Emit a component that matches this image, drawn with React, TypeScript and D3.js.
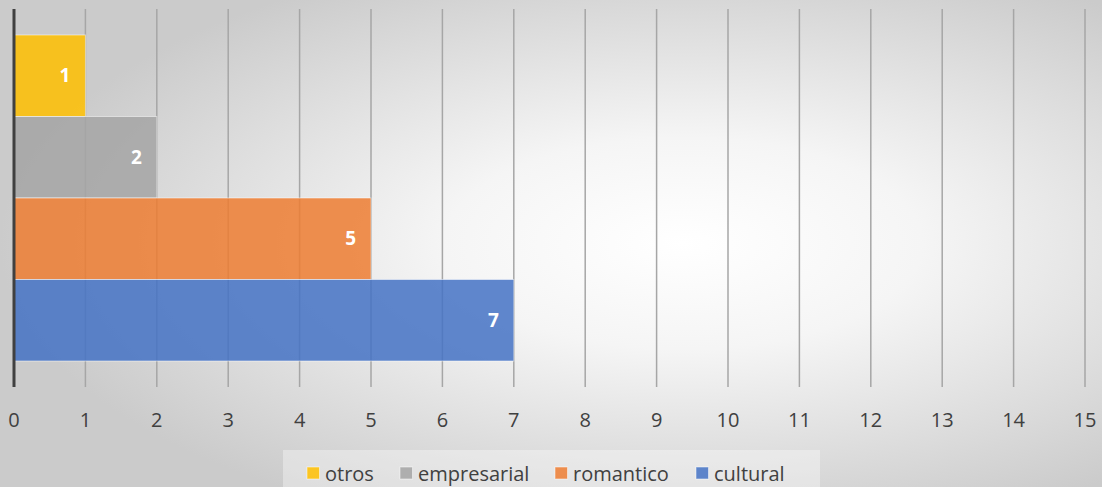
import React from "react";
import * as d3 from "d3";

const series = ["otros", "empresarial", "romantico", "cultural"];
const values = [1, 2, 5, 7];
const colors = ["#ffc000", "#a5a5a5", "#ed7d31", "#4472c4"];
const ticks = [0, 1, 2, 3, 4, 5, 6, 7, 8, 9, 10, 11, 12, 13, 14, 15];

const W = 1102;
const H = 487;
const FONT = "'Open Sans', sans-serif";

export default function App() {
  const x = d3.scaleLinear().domain([0, 15]).range([14, 1085]);
  const y = d3.scaleBand().domain(series).range([35, 361]).padding(0);
  const plotTop = 9;
  const plotBottom = 387;

  const legendX = [307, 400, 555, 696];

  return (
    <svg width={W} height={H} style={{ position: "absolute", left: 0, top: 0 }}>
      <defs>
        <radialGradient id="bg" cx="0.62" cy="0.5" r="0.62" gradientUnits="objectBoundingBox">
          <stop offset="0" stopColor="#ffffff" />
          <stop offset="0.35" stopColor="#f5f5f5" />
          <stop offset="1" stopColor="#cbcbcb" />
        </radialGradient>
      </defs>
      <rect x={0} y={0} width={W} height={H} fill="url(#bg)" />
      {ticks.slice(1).map((t) => (
        <line key={t} x1={x(t)} x2={x(t)} y1={plotTop} y2={plotBottom} stroke="#a6a6a6" strokeWidth={1.5} />
      ))}
      {series.map((s, i) => (
        <g key={s}>
          <rect
            x={x(0)}
            y={y(s)}
            width={x(values[i]) - x(0)}
            height={y.bandwidth()}
            fill={colors[i]}
            fillOpacity={0.85}
            stroke="#ffffff"
            strokeOpacity={0.5}
            strokeWidth={1}
          />
          <text
            x={x(values[i]) - 15}
            y={y(s)! + y.bandwidth() / 2}
            dy="0.35em"
            textAnchor="end"
            fill="#ffffff"
            fontWeight="bold"
            fontSize={19}
            fontFamily={FONT}
          >
            {values[i]}
          </text>
        </g>
      ))}
      <line x1={x(0)} x2={x(0)} y1={plotTop} y2={plotBottom} stroke="#404040" strokeWidth={3} />
      {ticks.map((t) => (
        <text key={t} x={x(t)} y={427} textAnchor="middle" fill="#404040" fontSize={20} fontFamily={FONT}>
          {t}
        </text>
      ))}
      <rect x={283} y={450} width={537} height={37} fill="#ffffff" fillOpacity={0.35} />
      {series.map((s, i) => (
        <g key={s}>
          <rect x={legendX[i]} y={467} width={12.5} height={12} fill={colors[i]} fillOpacity={0.85} stroke="#ffffff" strokeOpacity={0.5} />
          <text x={legendX[i] + 18} y={481} fill="#404040" fontSize={20} fontFamily={FONT}>
            {s}
          </text>
        </g>
      ))}
    </svg>
  );
}
